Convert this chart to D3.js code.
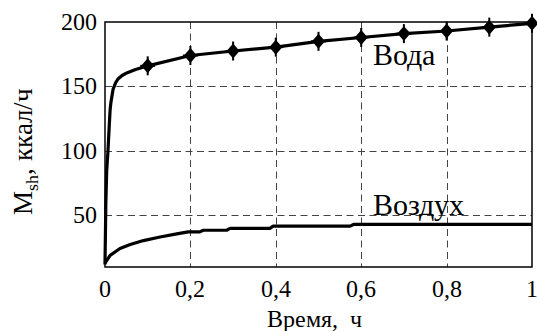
<!DOCTYPE html>
<html>
<head>
<meta charset="utf-8">
<script src="https://cdn.jsdelivr.net/npm/d3@7"></script>
<style>
  @font-face { font-family: "ChartSerif"; src: local("Liberation Serif"), local("LiberationSerif"), local("LiberationSerif-Regular"); }
  html, body { margin: 0; padding: 0; background: #fff; }
  svg { display: block; }
  svg text { font-family: "ChartSerif", "Liberation Serif"; }
</style>
</head>
<body>
<svg id="chart" width="537" height="331"></svg>
<script>
// ---- Data ----
const waterX = [0, 0.002, 0.004, 0.007, 0.01, 0.012, 0.014, 0.019, 0.025, 0.031, 0.04, 0.051, 0.07, 0.1, 0.2, 0.3, 0.4, 0.5, 0.6, 0.7, 0.8, 0.9, 1.0];
const waterY = [12, 60, 85, 100, 120, 132, 138, 148, 153, 156, 158.5, 160.5, 163, 166, 174, 177.5, 180.5, 185, 188, 191, 193, 196, 199];
const waterMarkerX = [0.1, 0.2, 0.3, 0.4, 0.5, 0.6, 0.7, 0.8, 0.9, 1.0];
const waterMarkerY = [166, 174, 177.5, 180.5, 185, 188, 191, 193, 196, 199];

const airX = [0, 0.012, 0.035, 0.059, 0.09, 0.129, 0.168, 0.195, 0.222, 0.23, 0.285, 0.293, 0.386, 0.394, 0.574, 0.582, 1.0];
const airY = [13, 19, 24.3, 27.4, 30.5, 33.3, 35.7, 37.2, 37.2, 38.5, 38.5, 39.9, 39.9, 41.7, 41.7, 43, 43];

const xTicks = [0, 0.2, 0.4, 0.6, 0.8, 1];
const xTickLabels = ["0", "0,2", "0,4", "0,6", "0,8", "1"];
const yTicks = [50, 100, 150, 200];
const yTickLabels = ["50", "100", "150", "200"];

const seriesLabels = ["Вода", "Воздух"];
const xTitle = "Время,\u00a0\u00a0ч";

// ---- Layout ----
const L = 105, R = 532, T = 22, B = 267;
const svg = d3.select("#chart");
const x = d3.scaleLinear().domain([0, 1]).range([L, R]);
const y = d3.scaleLinear().domain([10, 200]).range([B, T]);

// Grid
const grid = svg.append("g").attr("stroke", "#444").attr("stroke-width", 1)
  .attr("stroke-dasharray", "7,4.5").attr("fill", "none");
grid.selectAll("line.gx").data(xTicks.slice(1, -1)).join("line")
  .attr("x1", d => Math.round(x(d)) + 0.5).attr("x2", d => Math.round(x(d)) + 0.5)
  .attr("y1", T).attr("y2", B);
grid.selectAll("line.gy").data(yTicks.slice(0, -1)).join("line")
  .attr("y1", d => Math.round(y(d)) + 0.5).attr("y2", d => Math.round(y(d)) + 0.5)
  .attr("x1", L).attr("x2", R);

// Tick labels
svg.append("g").selectAll("text").data(xTicks).join("text")
  .attr("x", d => x(d)).attr("y", 297).attr("text-anchor", "middle")
  .attr("font-size", 24)
  .text((d, i) => xTickLabels[i]);
svg.append("g").selectAll("text").data(yTicks).join("text")
  .attr("x", 97).attr("y", d => y(d) + 8).attr("text-anchor", "end")
  .attr("font-size", 24)
  .text((d, i) => yTickLabels[i]);

// Frame
svg.append("rect").attr("x", L).attr("y", T).attr("width", R - L).attr("height", B - T)
  .attr("fill", "none").attr("stroke", "#000").attr("stroke-width", 1.5);

// Lines
const line = d3.line().x(d => x(d[0])).y(d => y(d[1]));
svg.append("path").datum(airX.map((v, i) => [v, airY[i]]))
  .attr("d", line).attr("fill", "none").attr("stroke", "#000").attr("stroke-width", 3.2).attr("stroke-linejoin", "round");
svg.append("path").datum(waterX.map((v, i) => [v, waterY[i]]))
  .attr("d", line).attr("fill", "none").attr("stroke", "#000").attr("stroke-width", 3.2).attr("stroke-linejoin", "round");

// Markers
const mg = svg.append("g").selectAll("g").data(waterMarkerX.map((v, i) => [v, waterMarkerY[i]])).join("g")
  .attr("transform", d => `translate(${x(d[0])},${y(d[1])})`);
mg.append("path").attr("d", "M0,-7.5L6.5,0L0,7.5L-6.5,0Z").attr("fill", "#000");
mg.append("line").attr("x1", 0).attr("x2", 0).attr("y1", -9.5).attr("y2", 9.5).attr("stroke", "#000").attr("stroke-width", 2);
mg.append("line").attr("x1", -7.5).attr("x2", 7.5).attr("y1", 0).attr("y2", 0).attr("stroke", "#000").attr("stroke-width", 2);

// Series labels
svg.append("text").attr("x", 373).attr("y", 65).attr("font-size", 30).text(seriesLabels[0]);
svg.append("text").attr("x", 373).attr("y", 215).attr("font-size", 30).text(seriesLabels[1]);

// X title
svg.append("text").attr("x", (L + R) / 2 - 4).attr("y", 327).attr("font-size", 24)
  .attr("text-anchor", "middle").text(xTitle);

// Y title
const yt = svg.append("text").attr("transform", "translate(32,151) rotate(-90)")
  .attr("text-anchor", "middle").attr("font-size", 27);
yt.append("tspan").text("M");
yt.append("tspan").attr("font-size", 18).attr("dy", 6).text("sh");
yt.append("tspan").attr("dy", -6).text(",\u00a0ккал/ч");
</script>
</body>
</html>
